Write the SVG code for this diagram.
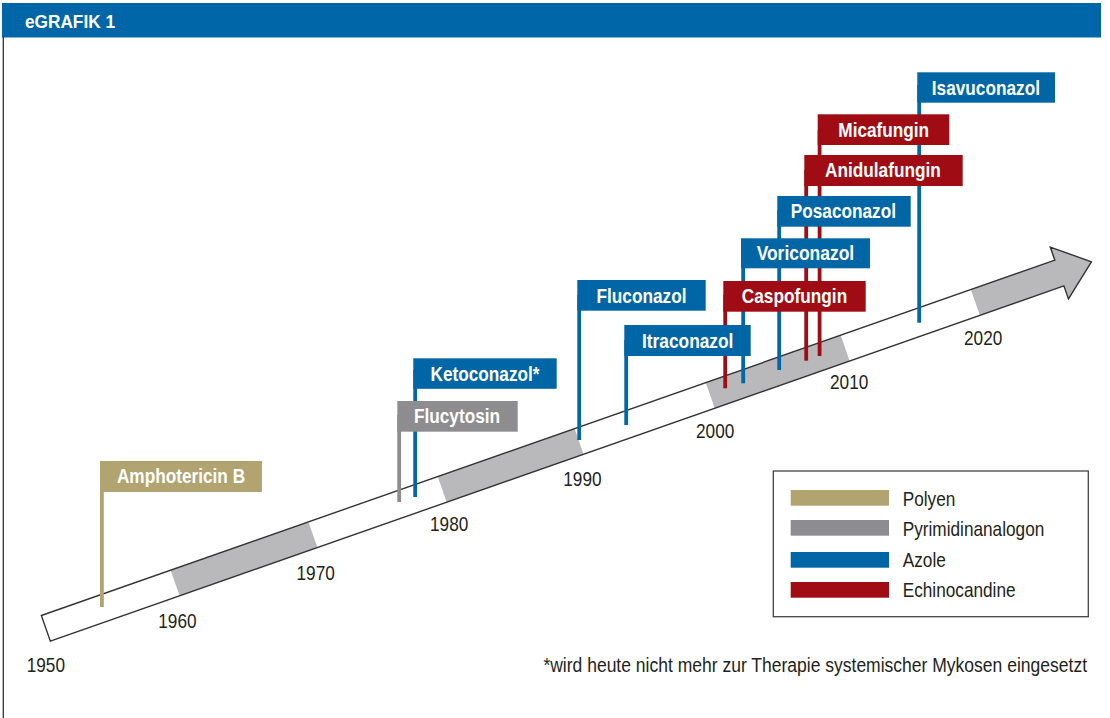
<svg xmlns="http://www.w3.org/2000/svg" width="1110" height="718" viewBox="0 0 1110 718">
<style>
.lbl{font-family:"Liberation Sans Narrow","Liberation Sans",Arial,sans-serif;font-size:21px;font-weight:bold;fill:#fff;text-anchor:middle}
.yr{font-family:"Liberation Sans Narrow","Liberation Sans",Arial,sans-serif;font-size:21px;fill:#231f20}
.leg{font-family:"Liberation Sans Narrow","Liberation Sans",Arial,sans-serif;font-size:21px;fill:#231f20}
.blue{fill:#0066a6}.red{fill:#a00c14}.gray{fill:#8d8d8f}.tan{fill:#b1a470}
.band{fill:#b9b9bb}
</style>
<rect x="0" y="0" width="1110" height="718" fill="#fff"/>
<g id="header">
<rect x="2" y="3" width="1099" height="34.5" fill="#0066a8"/>
<text x="25" y="28.3" textLength="90" lengthAdjust="spacingAndGlyphs" style="font-family:'Liberation Sans',Arial,sans-serif;font-size:18px;font-weight:bold;fill:#fff">eGRAFIK 1</text>
</g>
<line x1="3.3" y1="37" x2="3.3" y2="718" stroke="#333" stroke-width="1.3"/>
<g id="timeline" transform="translate(45.85 628.35) rotate(-19.32)">
<polygon points="0,-13.6 1074,-13.6 1074,-27.5 1108,0 1074,27.5 1074,13.6 0,13.6" fill="#fff"/>
<rect class="band" x="137" y="-13.6" width="146" height="27.2"/>
<rect class="band" x="420" y="-13.6" width="145" height="27.2"/>
<rect class="band" x="704" y="-13.6" width="143" height="27.2"/>
<polygon class="band" points="985,-13.6 1074,-13.6 1074,-27.5 1108,0 1074,27.5 1074,13.6 985,13.6"/>
<polygon points="0,-13.6 1074,-13.6 1074,-27.5 1108,0 1074,27.5 1074,13.6 0,13.6" fill="none" stroke="#333" stroke-width="1.4" stroke-linejoin="miter"/>
</g>
<g id="years">
<text class="yr" x="26.7" y="671.7" textLength="38.3" lengthAdjust="spacingAndGlyphs">1950</text>
<text class="yr" x="158.3" y="627.7" textLength="38.3" lengthAdjust="spacingAndGlyphs">1960</text>
<text class="yr" x="296.5" y="580" textLength="38.3" lengthAdjust="spacingAndGlyphs">1970</text>
<text class="yr" x="430" y="530.7" textLength="38.3" lengthAdjust="spacingAndGlyphs">1980</text>
<text class="yr" x="563.3" y="485.7" textLength="38.3" lengthAdjust="spacingAndGlyphs">1990</text>
<text class="yr" x="696" y="438.3" textLength="38.3" lengthAdjust="spacingAndGlyphs">2000</text>
<text class="yr" x="830" y="389.3" textLength="38.3" lengthAdjust="spacingAndGlyphs">2010</text>
<text class="yr" x="964" y="345" textLength="38.3" lengthAdjust="spacingAndGlyphs">2020</text>
</g>
<g id="connectors">
<rect class="tan" x="100" y="475" width="3.8" height="132"/>
<rect class="gray" x="397.3" y="415" width="3.8" height="87"/>
<rect class="blue" x="413.3" y="370" width="3.8" height="127"/>
<rect class="blue" x="577.3" y="295" width="3.8" height="145"/>
<rect class="blue" x="624.3" y="340" width="3.8" height="85"/>
<rect class="red" x="723.3" y="295" width="3.8" height="93.3"/>
<rect class="blue" x="741.3" y="250" width="3.8" height="133.3"/>
<rect class="blue" x="777.3" y="210" width="3.8" height="160"/>
<rect class="red" x="804.3" y="170" width="3.8" height="190.7"/>
<rect class="red" x="817.7" y="130" width="3.8" height="226"/>
<rect class="blue" x="917.3" y="85" width="3.8" height="237.7"/>
</g>
<g id="amphotericin">
<rect class="tan" x="100" y="461" width="162" height="31"/>
<text class="lbl" x="181" y="483.3" textLength="128.2" lengthAdjust="spacingAndGlyphs">Amphotericin B</text>
</g>
<g id="ketoconazol">
<rect class="blue" x="413.3" y="358.3" width="143.4" height="30.5"/>
<text class="lbl" x="485" y="380.6" textLength="109" lengthAdjust="spacingAndGlyphs">Ketoconazol*</text>
</g>
<g id="flucytosin">
<rect class="gray" x="397.3" y="401" width="120.4" height="30.7"/>
<text class="lbl" x="457" y="423.3" textLength="86.1" lengthAdjust="spacingAndGlyphs">Flucytosin</text>
</g>
<g id="fluconazol">
<rect class="blue" x="577.3" y="280" width="128.4" height="30.7"/>
<text class="lbl" x="641.5" y="302.5" textLength="90" lengthAdjust="spacingAndGlyphs">Fluconazol</text>
</g>
<g id="itraconazol">
<rect class="blue" x="624.3" y="325" width="126.4" height="31"/>
<text class="lbl" x="687.7" y="347.5" textLength="91.5" lengthAdjust="spacingAndGlyphs">Itraconazol</text>
</g>
<g id="caspofungin">
<rect class="red" x="723.3" y="281" width="142.4" height="30.7"/>
<text class="lbl" x="794.5" y="303.3" textLength="105.4" lengthAdjust="spacingAndGlyphs">Caspofungin</text>
</g>
<g id="voriconazol">
<rect class="blue" x="741" y="238.3" width="129" height="30"/>
<text class="lbl" x="805.4" y="260.4" textLength="97.5" lengthAdjust="spacingAndGlyphs">Voriconazol</text>
</g>
<g id="posaconazol">
<rect class="blue" x="777.3" y="196" width="133.4" height="30.7"/>
<text class="lbl" x="843.4" y="218.3" textLength="105.3" lengthAdjust="spacingAndGlyphs">Posaconazol</text>
</g>
<g id="anidulafungin">
<rect class="red" x="804.3" y="155" width="158.4" height="31"/>
<text class="lbl" x="882.9" y="177.4" textLength="115.8" lengthAdjust="spacingAndGlyphs">Anidulafungin</text>
</g>
<g id="micafungin">
<rect class="red" x="817.7" y="114.3" width="131.6" height="30.7"/>
<text class="lbl" x="883.7" y="136.6" textLength="90.8" lengthAdjust="spacingAndGlyphs">Micafungin</text>
</g>
<g id="isavuconazol">
<rect class="blue" x="917.3" y="72.3" width="137.7" height="30.4"/>
<text class="lbl" x="985.9" y="94.6" textLength="108.2" lengthAdjust="spacingAndGlyphs">Isavuconazol</text>
</g>
<g id="legend">
<rect x="773.3" y="471" width="315" height="145.7" fill="#fff" stroke="#444" stroke-width="1.3"/>
<rect class="tan" x="790.7" y="490" width="98.3" height="15.7"/>
<rect class="gray" x="790.7" y="520" width="98.3" height="15.7"/>
<rect class="blue" x="790.7" y="552" width="98.3" height="15.7"/>
<rect class="red" x="790.7" y="582" width="98.3" height="15.7"/>
<text class="leg" x="902.7" y="506" textLength="52.6" lengthAdjust="spacingAndGlyphs">Polyen</text>
<text class="leg" x="902.7" y="536.3" textLength="141.6" lengthAdjust="spacingAndGlyphs">Pyrimidinanalogon</text>
<text class="leg" x="902.7" y="566.7" textLength="43.1" lengthAdjust="spacingAndGlyphs">Azole</text>
<text class="leg" x="902.7" y="597.3" textLength="112.9" lengthAdjust="spacingAndGlyphs">Echinocandine</text>
</g>
<g id="footnote">
<text class="leg" transform="translate(1087 671.5) scale(0.834 1)" x="0" y="0" text-anchor="end">*wird heute nicht mehr zur Therapie systemischer Mykosen eingesetzt</text>
</g>
</svg>
